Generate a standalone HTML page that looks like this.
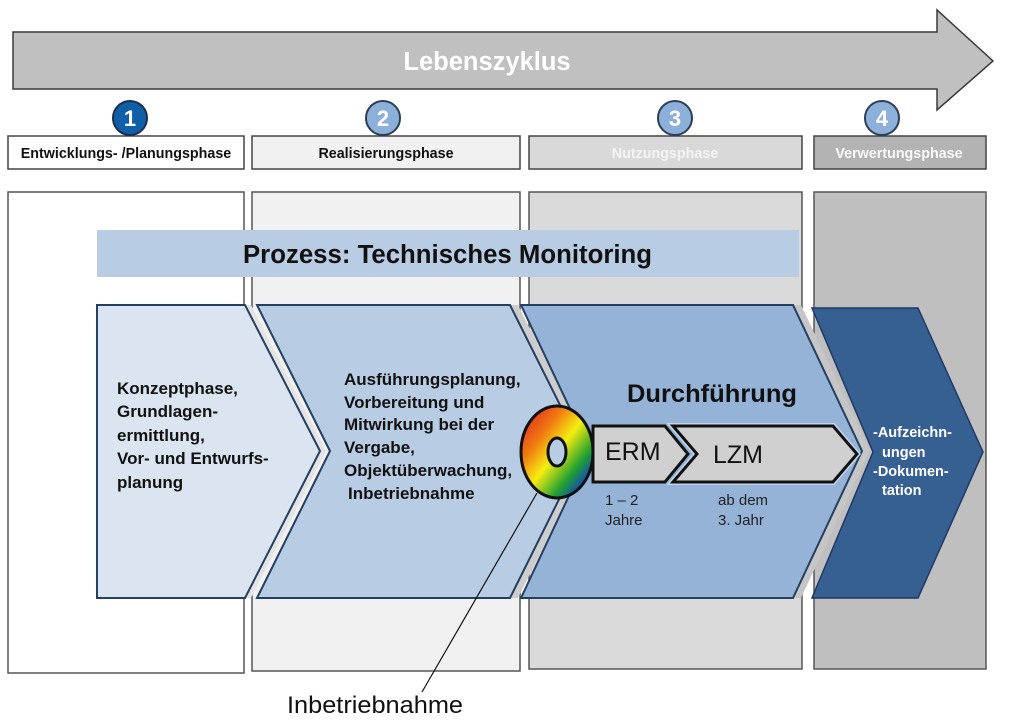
<!DOCTYPE html>
<html><head><meta charset="utf-8"><style>
html,body{margin:0;padding:0;background:#fff;}
svg{display:block;}
text{font-family:"Liberation Sans",Arial,sans-serif;}
</style></head><body>
<svg width="1024" height="726" viewBox="0 0 1024 726" xmlns="http://www.w3.org/2000/svg">
<defs>
<linearGradient id="rg" x1="0" y1="0" x2="1" y2="1">
<stop offset="0" stop-color="#e01020"/>
<stop offset="0.3" stop-color="#f07a10"/>
<stop offset="0.5" stop-color="#f5ee10"/>
<stop offset="0.72" stop-color="#20a030"/>
<stop offset="0.9" stop-color="#1030e0"/>
<stop offset="1" stop-color="#1020c0"/>
</linearGradient>
</defs>
<rect width="1024" height="726" fill="#fff"/>

<!-- Lifecycle arrow -->
<polygon points="13,32 937,32 937,10 993,61 937,110 937,89 13,89" fill="#c0c0c0" stroke="#3a3a3a" stroke-width="1.5"/>
<text x="487" y="70" font-size="25.5" font-weight="bold" fill="#fff" text-anchor="middle">Lebenszyklus</text>

<!-- Column boxes -->
<rect x="8" y="192" width="236" height="481" fill="#fff" stroke="#555" stroke-width="1.5"/>
<rect x="252" y="192" width="268" height="479" fill="#f1f1f1" stroke="#555" stroke-width="1.5"/>
<rect x="529" y="192" width="273" height="477" fill="#dadada" stroke="#555" stroke-width="1.5"/>
<rect x="814" y="192" width="172" height="477" fill="#bfbfbf" stroke="#555" stroke-width="1.5"/>

<!-- Phase label boxes -->
<rect x="8" y="136" width="236" height="33" fill="#fff" stroke="#444" stroke-width="1.5"/>
<rect x="252" y="136" width="268" height="33" fill="#f1f1f1" stroke="#444" stroke-width="1.5"/>
<rect x="529" y="136" width="273" height="33" fill="#d9d9d9" stroke="#444" stroke-width="1.5"/>
<rect x="814" y="136" width="172" height="33" fill="#b3b3b3" stroke="#444" stroke-width="1.5"/>
<text x="126" y="158" font-size="14.3" font-weight="bold" fill="#111" text-anchor="middle">Entwicklungs- /Planungsphase</text>
<text x="386" y="158" font-size="14.3" font-weight="bold" fill="#111" text-anchor="middle">Realisierungsphase</text>
<text x="665" y="158" font-size="14.3" font-weight="bold" fill="#f4f4f4" text-anchor="middle">Nutzungsphase</text>
<text x="899" y="158" font-size="14.3" font-weight="bold" fill="#fafafa" text-anchor="middle">Verwertungsphase</text>

<!-- Number circles -->
<circle cx="130" cy="118" r="17" fill="#0f5ea8" stroke="#1b2f4a" stroke-width="2"/>
<text x="130" y="126" font-size="22" font-weight="bold" fill="#fff" text-anchor="middle">1</text>
<circle cx="383" cy="118" r="17" fill="#8db0da" stroke="#2d3e55" stroke-width="2"/>
<text x="383" y="126" font-size="22" font-weight="bold" fill="#fff" text-anchor="middle">2</text>
<circle cx="675" cy="118" r="17" fill="#8db0da" stroke="#2d3e55" stroke-width="2"/>
<text x="675" y="126" font-size="22" font-weight="bold" fill="#fff" text-anchor="middle">3</text>
<circle cx="882" cy="118" r="17" fill="#8db0da" stroke="#2d3e55" stroke-width="2"/>
<text x="882" y="126" font-size="22" font-weight="bold" fill="#fff" text-anchor="middle">4</text>

<!-- Banner -->
<rect x="97" y="230" width="702" height="47" fill="#b8cce4"/>
<text x="243" y="263" font-size="25.5" font-weight="bold" fill="#111" textLength="409" lengthAdjust="spacingAndGlyphs">Prozess: Technisches Monitoring</text>

<!-- Chevron shadows -->
<polygon points="103,305 251,305 326,451 251,598 103,598" fill="#e4e4e4"/>
<polygon points="265,305 518,305 591,451 518,598 265,598 338,451" fill="#cdcdcd"/>
<polygon points="529,305 801,305 870,451 801,598 529,598 598,451" fill="#c6c6c6"/>

<!-- Chevrons -->
<polygon points="97,305 245,305 320,451 245,598 97,598" fill="#dbe5f1" stroke="#243f60" stroke-width="2"/>
<polygon points="257,305 510,305 583,451 510,598 257,598 330,451" fill="#b8cce4" stroke="#243f60" stroke-width="2"/>
<polygon points="521,305 793,305 862,451 793,598 521,598 590,451" fill="#95b3d7" stroke="#243f60" stroke-width="2"/>
<polygon points="812,308 918,308 983,452 918,598 812,598 873,452" fill="#366092" stroke="#1f3864" stroke-width="1.5"/>

<!-- Chevron 1 text -->
<g font-size="17" font-weight="bold" fill="#111">
<text x="117" y="394">Konzeptphase,</text>
<text x="117" y="417">Grundlagen-</text>
<text x="117" y="441">ermittlung,</text>
<text x="117" y="464">Vor- und Entwurfs-</text>
<text x="117" y="488">planung</text>
</g>

<!-- Chevron 2 text -->
<g font-size="17" font-weight="bold" fill="#111">
<text x="344" y="385">Ausführungsplanung,</text>
<text x="344" y="408">Vorbereitung und</text>
<text x="344" y="430">Mitwirkung bei der</text>
<text x="344" y="453">Vergabe,</text>
<text x="344" y="476">Objektüberwachung,</text>
<text x="348" y="499">Inbetriebnahme</text>
</g>

<!-- Durchführung -->
<text x="627" y="402" font-size="25" font-weight="bold" fill="#111" textLength="170" lengthAdjust="spacingAndGlyphs">Durchführung</text>

<!-- ERM / LZM -->
<polygon points="673,426 833,426 857,454 833,482 673,482 697,454" fill="none" stroke="#c5d6ec" stroke-width="6"/>
<polygon points="593,426 665,426 688,454 665,482 593,482" fill="#d0d0d0" stroke="#111" stroke-width="3"/>
<polygon points="673,426 833,426 857,454 833,482 673,482 697,454" fill="#d0d0d0" stroke="#111" stroke-width="3"/>
<text x="605" y="460" font-size="25" fill="#111">ERM</text>
<text x="713" y="463" font-size="25" fill="#111">LZM</text>
<g font-size="15" fill="#222">
<text x="605" y="505">1 – 2</text>
<text x="605" y="525">Jahre</text>
<text x="718" y="505">ab dem</text>
<text x="718" y="525">3. Jahr</text>
</g>

<!-- Color ring -->
<path d="M521,452 a36,46 0 1,0 72,0 a36,46 0 1,0 -72,0 Z M548,452 a9,14 0 1,0 18,0 a9,14 0 1,0 -18,0 Z" fill="url(#rg)" fill-rule="evenodd"/>
<ellipse cx="557" cy="452" rx="36" ry="46" fill="none" stroke="#111" stroke-width="3"/>
<ellipse cx="557" cy="452" rx="9" ry="14" fill="#b8cce4" stroke="#111" stroke-width="3"/>

<!-- Chevron 4 text -->
<g font-size="14.5" font-weight="bold" fill="#fff">
<text x="873" y="437">-Aufzeichn-</text>
<text x="882" y="457">ungen</text>
<text x="873" y="476">-Dokumen-</text>
<text x="882" y="495">tation</text>
</g>

<!-- Leader line -->
<line x1="537" y1="493" x2="422" y2="692" stroke="#111" stroke-width="1.2"/>
<text x="287" y="713" font-size="24" fill="#111" textLength="176" lengthAdjust="spacingAndGlyphs">Inbetriebnahme</text>
</svg>
</body></html>
